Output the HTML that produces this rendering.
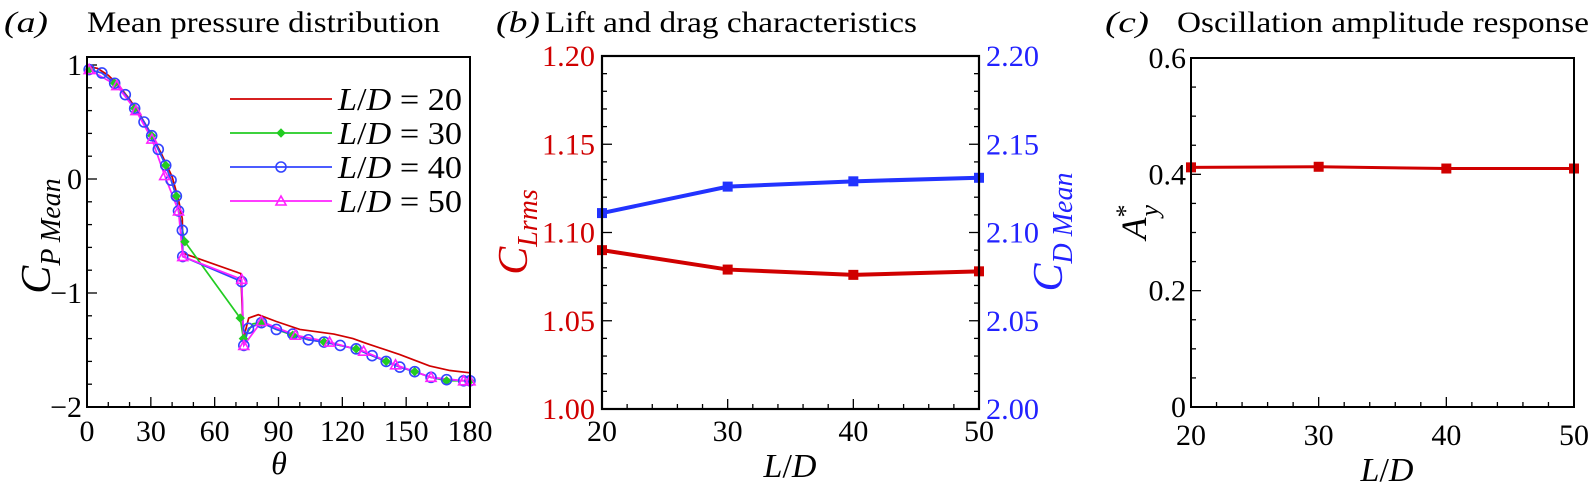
<!DOCTYPE html>
<html><head><meta charset="utf-8"><style>
html,body{margin:0;padding:0;background:#fff}
svg{display:block;font-family:"Liberation Serif","Times New Roman",Times,serif}
</style></head><body>
<svg id="fig" width="1592" height="495" viewBox="0 0 1592 495" xmlns="http://www.w3.org/2000/svg">
<g id="g"></g>
</svg>
<script>
// ---------- Panel (a) data ----------
const thetaA20=[0,5,10,15,20,25,30,35,40,43,44.8,45,72.3,73.5,76,80.5,89,100,116,125,131,147,161,170.6,180];
const cpA20=[0.99,0.97,0.91,0.82,0.70,0.56,0.40,0.22,0.02,-0.18,-0.35,-0.65,-0.83,-1.40,-1.22,-1.19,-1.25,-1.32,-1.36,-1.40,-1.44,-1.54,-1.64,-1.68,-1.70];
const thetaA30=[1,7,13,18,22.4,26.8,30.4,33.5,37,39.5,42,44,46,72,73.5,78,82,89,96.7,104,111.4,119,126.5,134,140.6,147,154,161.7,169,177,180];
const cpA30=[0.96,0.93,0.84,0.74,0.62,0.50,0.38,0.26,0.12,-0.01,-0.15,-0.37,-0.55,-1.22,-1.40,-1.27,-1.26,-1.32,-1.37,-1.41,-1.43,-1.46,-1.49,-1.55,-1.60,-1.65,-1.69,-1.74,-1.77,-1.77,-1.77];
const thetaA40=[1,7,13,18,22.4,26.8,30.4,33.5,37,39.5,42,43,44.8,45,72.7,73.7,75.9,82,89,96.7,104,111.4,119,126.5,134,140.6,147,154,161.7,169,177,180];
const cpA40=[0.96,0.93,0.84,0.74,0.62,0.50,0.38,0.26,0.12,-0.01,-0.15,-0.28,-0.45,-0.68,-0.90,-1.46,-1.31,-1.26,-1.32,-1.36,-1.41,-1.43,-1.46,-1.49,-1.55,-1.60,-1.65,-1.69,-1.74,-1.76,-1.77,-1.77];
const thetaA50=[1,14,23,30.5,36.5,43,45,72.7,73.7,82,98,114,130,145,161.7,177,180];
const cpA50=[0.96,0.82,0.60,0.35,0.03,-0.28,-0.68,-0.88,-1.46,-1.25,-1.37,-1.43,-1.51,-1.63,-1.74,-1.77,-1.77];
const ticksAx=[0,30,60,90,120,150,180];
const ticksAy=[1,0,-1,-2];
const labelsAy=["1","0","\u22121","\u22122"];
// ---------- Panel (b) data ----------
const ldB=[20,30,40,50];
const clrms=[1.090,1.079,1.076,1.078];
const cdMean=[2.111,2.126,2.129,2.131];
const ticksBx=[20,30,40,50];
const ticksBl=[1.00,1.05,1.10,1.15,1.20];
const ticksBr=[2.00,2.05,2.10,2.15,2.20];
// ---------- Panel (c) data ----------
const ldC=[20,30,40,50];
const ampY=[0.412,0.413,0.410,0.410];
const ticksCy=[0,0.2,0.4,0.6];

const NS="http://www.w3.org/2000/svg";
const root=document.getElementById('g');
function mk(tag,attrs,parent){const e=document.createElementNS(NS,tag);for(const k in attrs)e.setAttribute(k,attrs[k]);(parent||root).appendChild(e);return e;}
function txt(s,x,y,size,attrs,parent){const e=mk('text',Object.assign({x:x,y:y,'font-size':size},attrs||{}),parent);e.textContent=s;return e;}
function lin(a,b,c0,c1){return v=>b+(v-a)*(c1-b)/(c0-a);}
const TF=30;

// ===== Panel A =====
const ax=lin(0,87,180,470), ay=lin(-2,407,1,65);
const gA=mk('g',{});


let t=txt('(a)',4,32,30,{'font-style':'italic',textLength:44,lengthAdjust:'spacingAndGlyphs'},gA);

t=txt('Mean pressure distribution',87,32,30,{textLength:353,lengthAdjust:'spacingAndGlyphs'},gA);

for(let v=0;v<=180;v+=10){const X=ax(v);const L=(v%30===0)?10:5;mk('line',{x1:X,y1:407,x2:X,y2:407-L,stroke:'#000','stroke-width':1.3},gA);}
for(let v=-2;v<=1.001;v+=0.2){const Y=ay(v);const L=(Math.abs(v-Math.round(v))<1e-6)?10:5;mk('line',{x1:87,y1:Y,x2:87+L,y2:Y,stroke:'#000','stroke-width':1.3},gA);}
ticksAx.forEach(v=>{const e=txt(String(v),ax(v),441,TF,{'text-anchor':'middle'},gA);});
ticksAy.forEach((v,i)=>{const e=txt(labelsAy[i],82,ay(v)+10,TF,{'text-anchor':'end'},gA);});
t=txt('\u03b8',279,474,32,{'text-anchor':'middle','font-style':'italic'},gA);

const ylA=mk('text',{transform:'translate(50,236) rotate(-90)','text-anchor':'middle','font-size':42,'font-style':'italic'},gA);

ylA.innerHTML='C<tspan font-size="28" dy="10">P Mean</tspan>';
function polyA(xs,ys,color,name){const p=mk('polyline',{points:xs.map((x,i)=>ax(x)+','+ay(ys[i])).join(' '),fill:'none',stroke:color,'stroke-width':1.7},gA);}
polyA(thetaA20,cpA20,'#d00000','series-ld20');
polyA(thetaA30,cpA30,'#22cc22','series-ld30');
polyA(thetaA40,cpA40,'#3344ff','series-ld40');
polyA(thetaA50,cpA50,'#ff22ff','series-ld50');
function diamond(X,Y,c,g){return mk('polygon',{points:`${X},${Y-4} ${X+4},${Y} ${X},${Y+4} ${X-4},${Y}`,fill:c,stroke:c},g);}
function circ(X,Y,c,g){return mk('circle',{cx:X,cy:Y,r:5,fill:'none',stroke:c,'stroke-width':1.6},g);}
function tri(X,Y,c,g){return mk('polygon',{points:`${X},${Y-5} ${X+5},${Y+4} ${X-5},${Y+4}`,fill:'none',stroke:c,'stroke-width':1.6},g);}
thetaA30.forEach((x,i)=>{if(i%2===0||i===13){const m=diamond(ax(x),ay(cpA30[i]),'#22cc22',gA);}});
thetaA40.forEach((x,i)=>{const m=circ(ax(x),ay(cpA40[i]),'#3344ff',gA);});
thetaA50.forEach((x,i)=>{const m=tri(ax(x),ay(cpA50[i]),'#ff22ff',gA);});
mk('rect',{x:87,y:57,width:383,height:350,fill:'none',stroke:'#000','stroke-width':2},gA);
const leg=mk('g',{},gA);

const legC=['#d00000','#22cc22','#3344ff','#ff22ff'];const legL=['20','30','40','50'];
legC.forEach((c,i)=>{const Y=99+i*34;mk('line',{x1:230,y1:Y,x2:332,y2:Y,stroke:c,'stroke-width':1.7},leg);
if(i===1)diamond(281,Y,c,leg);if(i===2)circ(281,Y,c,leg);if(i===3)tri(281,Y,c,leg);
const e=mk('text',{x:338,y:Y+11,'font-size':32,textLength:124,lengthAdjust:'spacingAndGlyphs'},leg);
e.innerHTML='<tspan font-style="italic">L</tspan>/<tspan font-style="italic">D</tspan> = '+legL[i];});

// ===== Panel B =====
const bx=lin(20,602,50,979), byL=lin(1.0,409,1.2,56), byR=lin(2.0,409,2.2,56);
const gB=mk('g',{});

t=txt('(b)',496,32,30,{'font-style':'italic',textLength:44,lengthAdjust:'spacingAndGlyphs'},gB);
t=txt('Lift and drag characteristics',545,32,30,{textLength:372,lengthAdjust:'spacingAndGlyphs'},gB);
for(let v=20;v<=50;v+=2){const X=bx(v);const L=(v%10===0)?10:5;mk('line',{x1:X,y1:409,x2:X,y2:409-L,stroke:'#000','stroke-width':1.3},gB);}
for(let k=0;k<=20;k++){const Y=byL(1+k*0.01);const L=(k%5===0)?10:5;mk('line',{x1:602,y1:Y,x2:602+L,y2:Y,stroke:'#000','stroke-width':1.3},gB);mk('line',{x1:979,y1:Y,x2:979-L,y2:Y,stroke:'#000','stroke-width':1.3},gB);}
ticksBx.forEach(v=>{const e=txt(String(v),bx(v),441,TF,{'text-anchor':'middle'},gB);});
ticksBl.forEach(v=>{const e=txt(v.toFixed(2),595,byL(v)+10,TF,{'text-anchor':'end',fill:'#d00000',textLength:53,lengthAdjust:'spacingAndGlyphs'},gB);});
ticksBr.forEach(v=>{const e=txt(v.toFixed(2),986,byR(v)+10,TF,{fill:'#2222ff',textLength:53,lengthAdjust:'spacingAndGlyphs'},gB);});
const xlB=mk('text',{x:790,y:477,'font-size':34,'text-anchor':'middle'},gB);
xlB.innerHTML='<tspan font-style="italic">L</tspan>/<tspan font-style="italic">D</tspan>';
const ylB=mk('text',{transform:'translate(527,232) rotate(-90)','text-anchor':'middle','font-size':42,'font-style':'italic',fill:'#d00000'},gB);

ylB.innerHTML='C<tspan font-size="28" dy="10">Lrms</tspan>';
const yrB=mk('text',{transform:'translate(1062,232) rotate(-90)','text-anchor':'middle','font-size':42,'font-style':'italic',fill:'#2222ff'},gB);

yrB.innerHTML='C<tspan font-size="28" dy="10">D Mean</tspan>';
function seriesSq(xs,ys,fx,fy,c,w,g,name){const p=mk('polyline',{points:xs.map((x,i)=>fx(x)+','+fy(ys[i])).join(' '),fill:'none',stroke:c,'stroke-width':w},g);
xs.forEach((x,i)=>{const m=mk('rect',{x:fx(x)-5,y:fy(ys[i])-5,width:10,height:10,fill:c},g);});}
seriesSq(ldB,clrms,bx,byL,'#d00000',4,gB,'series-clrms');
seriesSq(ldB,cdMean,bx,byR,'#2233ff',4,gB,'series-cdmean');
mk('rect',{x:602,y:56,width:377,height:353,fill:'none',stroke:'#000','stroke-width':2.2},gB);

// ===== Panel C =====
const cx=lin(20,1191,50,1574), cy=lin(0,407,0.6,58);
const gC=mk('g',{});

t=txt('(c)',1105,32,30,{'font-style':'italic',textLength:44,lengthAdjust:'spacingAndGlyphs'},gC);
t=txt('Oscillation amplitude response',1177,32,30,{textLength:412,lengthAdjust:'spacingAndGlyphs'},gC);
for(let v=20;v<=50;v+=2){const X=cx(v);const L=(v%10===0)?10:5;mk('line',{x1:X,y1:407,x2:X,y2:407-L,stroke:'#000','stroke-width':1.3},gC);}
for(let k=0;k<=12;k++){const Y=cy(k*0.05);const L=(k%4===0)?10:5;mk('line',{x1:1191,y1:Y,x2:1191+L,y2:Y,stroke:'#000','stroke-width':1.3},gC);}
ticksBx.forEach(v=>{const e=txt(String(v),cx(v),445,TF,{'text-anchor':'middle'},gC);});
ticksCy.forEach(v=>{const e=txt(v===0?'0':v.toFixed(1),1186,cy(v)+10,TF,{'text-anchor':'end'},gC);});
const xlC=mk('text',{x:1387,y:481,'font-size':34,'text-anchor':'middle'},gC);
xlC.innerHTML='<tspan font-style="italic">L</tspan>/<tspan font-style="italic">D</tspan>';
const ylC=mk('text',{transform:'translate(1146,222) rotate(-90)','text-anchor':'middle','font-size':36,'font-style':'italic'},gC);

ylC.innerHTML='A<tspan font-size="26" dy="-12" font-style="normal">*</tspan><tspan font-size="26" dx="-12" dy="24">y</tspan>';
seriesSq(ldC,ampY,cx,cy,'#d00000',3,gC,'series-amplitude');
mk('rect',{x:1191,y:58,width:383,height:349,fill:'none',stroke:'#000','stroke-width':2},gC);
</script>
</body></html>
